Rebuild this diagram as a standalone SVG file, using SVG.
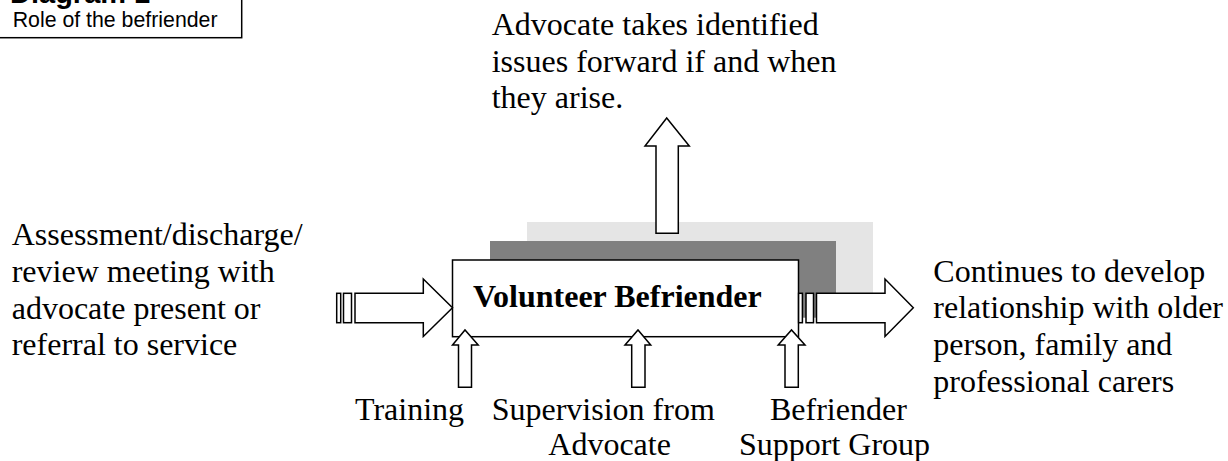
<svg xmlns="http://www.w3.org/2000/svg" width="1228" height="461" viewBox="0 0 1228 461">
<style>
.t{font-family:"Liberation Serif","Times New Roman",serif;font-size:32px;fill:#000}
.b{font-weight:bold}
.a{font-family:"Liberation Sans",Arial,sans-serif;fill:#000}
.ar{fill:#fff;stroke:#000;stroke-width:1.5;stroke-linejoin:miter}
</style>
<rect width="1228" height="461" fill="#fff"/>
<g id="title">
<rect x="-5" y="-20" width="246.7" height="57.7" fill="#fff" stroke="#000" stroke-width="1.5"/>
<text class="a b" x="10" y="3" font-size="29">Diagram 1</text>
<text class="a" x="12.7" y="26.7" font-size="21.3">Role of the befriender</text>
</g>
<g id="volunteer-befriender">
<rect x="527" y="222" width="346" height="76.7" fill="#e5e5e5"/>
<rect x="490" y="241" width="346" height="76.7" fill="#808080"/>
<rect x="452.5" y="260" width="346" height="76.7" fill="#fff" stroke="#000" stroke-width="1.5"/>
<text class="t b" x="472.9" y="307">Volunteer Befriender</text>
</g>
<g id="connectors">
<path class="ar" d="M656,233.3 V146 H645 L666.7,118 L689.3,146 H678.3 V233.3 Z"/>
<rect class="ar" x="336.7" y="293.3" width="4" height="29.4"/>
<rect class="ar" x="343.5" y="293.3" width="8" height="29.4"/>
<path class="ar" d="M355,293.3 H423.3 V279 L452.5,307.7 L423.3,336.5 V322.7 H355 Z"/>
<rect class="ar" x="798.6" y="293.3" width="3.8" height="29.4"/>
<rect class="ar" x="806" y="293.3" width="7.5" height="29.4"/>
<path class="ar" d="M816.5,293.3 H885 V279 L913.3,307.7 L885,336.5 V322.7 H816.5 Z"/>
<path class="ar" d="M458.5,387.3 V345 H452.5 L465,330 L478.2,345 H471.5 V387.3 Z"/>
<path class="ar" d="M631.7,387.3 V345 H625 L638,330 L650.7,345 H645 V387.3 Z"/>
<path class="ar" d="M785,387.3 V345 H778.2 L791.5,330 L805,345 H798.3 V387.3 Z"/>
</g>
<g id="label-top">
<text class="t" x="491.7" y="35">Advocate takes identified</text>
<text class="t" x="491.7" y="71.7">issues forward if and when</text>
<text class="t" x="491.7" y="108.3">they arise.</text>
</g>
<g id="label-left">
<text class="t" x="11.7" y="245">Assessment/discharge/</text>
<text class="t" x="11.7" y="281.8">review meeting with</text>
<text class="t" x="11.7" y="318.6">advocate present or</text>
<text class="t" x="11.7" y="355.4">referral to service</text>
</g>
<g id="label-right">
<text class="t" x="933.3" y="281.7">Continues to develop</text>
<text class="t" x="933.3" y="318.4">relationship with older</text>
<text class="t" x="933.3" y="355.1">person, family and</text>
<text class="t" x="933.3" y="391.8">professional carers</text>
</g>
<g id="label-training">
<text class="t" x="355" y="420">Training</text>
</g>
<g id="label-supervision">
<text class="t" x="491.7" y="420">Supervision from</text>
<text class="t" x="548.3" y="455">Advocate</text>
</g>
<g id="label-support">
<text class="t" x="770" y="420">Befriender</text>
<text class="t" x="739" y="455">Support Group</text>
</g>
</svg>
